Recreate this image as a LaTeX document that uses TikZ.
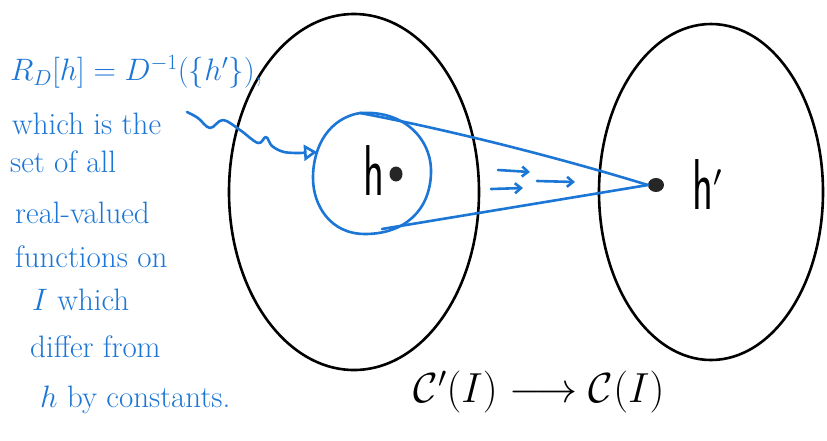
\RequirePackage{fix-cm}
\documentclass[tikz,border=0pt]{standalone}
\usepackage{amsmath}
\usepackage{graphicx}
\usepackage{fontspec}
\usetikzlibrary{arrows.meta,shapes.geometric}
\definecolor{pen}{RGB}{28,118,214}
\begin{document}
\begin{tikzpicture}[x=1pt,y=-1pt,
  setline/.style={line width=2.6pt,black},
  blueline/.style={line width=2.6pt,pen,line cap=round,line join=round},
  note/.style={pen,anchor=west,inner sep=0pt,font=\fontsize{31}{34}\selectfont},
  bigsym/.style={inner sep=0pt,font=\sffamily\fontsize{72}{76}\selectfont}]
\useasboundingbox (0,0) rectangle (827,440);
% the two sets
\draw[setline] (354,192) ellipse [x radius=125, y radius=178];
\draw[setline] (711,192) ellipse [x radius=112, y radius=168];
% blob (preimage)
\draw[blueline] (360,113) .. controls (405,110) and (432,140) .. (431,173)
  .. controls (430,210) and (405,234) .. (365,234)
  .. controls (330,234) and (313,205) .. (313,178)
  .. controls (313,145) and (330,118) .. (360,113) -- cycle;
\coordinate (blobtop) at (360,113);
\coordinate (blobbot) at (382,229);
\coordinate (blobin) at (317,152);
% image point
\node[fill=black!85,ellipse,minimum width=16pt,minimum height=14pt,inner sep=0pt] (hp) at (656,185) {};
\draw[blueline] (blobtop) .. controls (450,130) and (560,158) .. (hp.west);
\draw[blueline] (blobbot) .. controls (460,216) and (570,198) .. (hp.west);
% small arrows
\coordinate (a1s) at (498,170); \coordinate (a1e) at (530,172);
\coordinate (a2s) at (491,189); \coordinate (a2e) at (523,188);
\coordinate (a3s) at (537,181); \coordinate (a3e) at (575,182);
\draw[blueline,-{Straight Barb[length=6pt,width=10pt]}] (a1s) -- (a1e);
\draw[blueline,-{Straight Barb[length=6pt,width=10pt]}] (a2s) -- (a2e);
\draw[blueline,-{Straight Barb[length=6pt,width=10pt]}] (a3s) -- (a3e);
% labels h, h'
\node[bigsym,anchor=base] (h) at (374,195) {\scalebox{0.6}[1]{h}};
\node[fill=black!85,ellipse,minimum width=13pt,minimum height=15pt,inner sep=0pt] (hdot) at (396,174) {};
\node[bigsym,anchor=base] (hprime) at (707,209) {\scalebox{0.6}[1]{h}\raisebox{0.1em}{\scalebox{0.6}{$'$}}};
% annotation
\node[note] (l1) at (10,72) {$R_D[h]=D^{-1}(\{h'\})$,};
\node[note] (l2) at (12,124) {which is the};
\node[note] (l3) at (10,162) {set of all};
\node[note] (l4) at (15,213) {real-valued};
\node[note] (l5) at (15,257) {functions on};
\node[note] (l6) at (32,300) {$I$ which};
\node[note] (l7) at (30,347) {differ from};
\node[note] (l8) at (40,400) {$h$ by constants.};
% wavy pointer
\coordinate (wstart) at (187,112);
\draw[blueline,-{Triangle[open,length=13pt,width=16pt]}] plot[smooth,tension=0.6] coordinates {(wstart) (198,118) (210,128) (223,120) (240,130) (258,143) (266,137) (272,146) (284,152) (300,153)} -- (blobin);
% map
\node[inner sep=0pt,font=\fontsize{42}{46}\selectfont] (map) at (539,392) {$\mathcal{C}'(I)\longrightarrow\mathcal{C}(I)$};
\end{tikzpicture}
\end{document}
